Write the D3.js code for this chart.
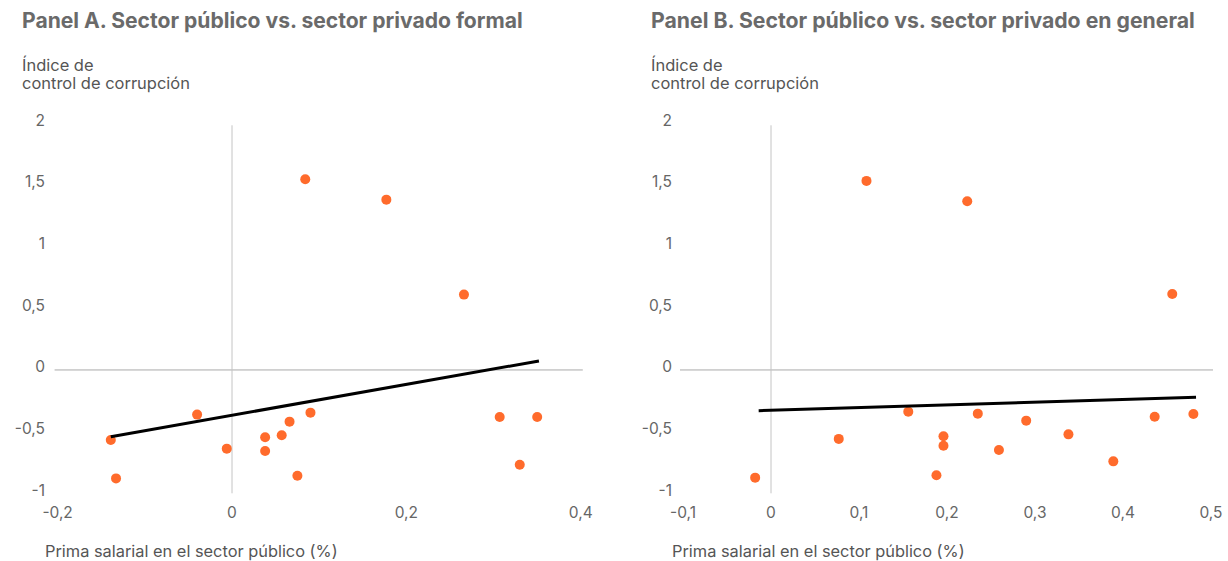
<!DOCTYPE html>
<html><head><meta charset="utf-8">
<script src="https://cdn.jsdelivr.net/npm/d3@7"></script>
<style>body{margin:0;background:#fff}svg{display:block}text{font-family:Inter,"Liberation Sans",Arial,sans-serif}</style>
</head><body><svg id="c" width="1228" height="561"></svg>
<script>
// Panel A data
const titleA = "Panel A. Sector público vs. sector privado formal";
const xA = [-0.139,-0.133,-0.040,-0.006,0.038,0.038,0.057,0.066,0.075,0.090,0.084,0.177,0.266,0.307,0.330,0.350];
const yA = [-0.568,-0.879,-0.362,-0.638,-0.546,-0.657,-0.530,-0.419,-0.857,-0.346,1.547,1.381,0.611,-0.381,-0.768,-0.381];
const fitAx = [-0.139, 0.352];
const fitAy = [-0.541, 0.073];
const xTicksA = [-0.2, 0, 0.2, 0.4];
// Panel B data
const titleB = "Panel B. Sector público vs. sector privado en general";
const xB = [-0.018,0.077,0.156,0.188,0.196,0.196,0.235,0.259,0.290,0.338,0.389,0.436,0.480,0.1085,0.223,0.456];
const yB = [-0.873,-0.559,-0.338,-0.853,-0.538,-0.614,-0.354,-0.649,-0.411,-0.522,-0.741,-0.379,-0.357,1.533,1.368,0.616];
const fitBx = [-0.014, 0.483];
const fitBy = [-0.330, -0.222];
const xTicksB = [-0.1, 0, 0.1, 0.2, 0.3, 0.4, 0.5];
// Shared
const yTicks = [2, 1.5, 1, 0.5, 0, -0.5, -1];
const yTitle = ["Índice de", "control de corrupción"];
const xTitle = "Prima salarial en el sector público (%)";

const svg = d3.select("#c");
const fmt = v => String(v).replace(".", ",");
const y = d3.scaleLinear().domain([-1, 2]).range([493.3, 123.3]);

// shrink/grow a text element's font size so that it spans the target width
function fit(sel, target) {
  const node = sel.node();
  const fs = parseFloat(sel.attr("font-size"));
  const w = node.getComputedTextLength();
  if (w > 0) sel.attr("font-size", (fs * target / w).toFixed(2));
}

function panel(cfg) {
  const g = svg.append("g");
  const x = d3.scaleLinear().domain(cfg.xdom).range(cfg.xrange);
  const t = g.append("text").attr("x", cfg.left).attr("y", 28).attr("font-size", 19).attr("font-weight", "bold")
    .attr("fill", "#6a6a6a").text(cfg.title);
  fit(t, cfg.titleW);
  const yt = g.selectAll(".yt").data(yTitle).join("text").attr("x", cfg.left).attr("y", (d, i) => 71 + i * 18)
    .attr("font-size", 15).attr("fill", "#555").text(d => d);
  fit(d3.select(yt.nodes()[1]), 168);
  d3.select(yt.nodes()[0]).attr("font-size", d3.select(yt.nodes()[1]).attr("font-size"));
  // zero lines
  g.append("line").attr("x1", x(cfg.xdom[0]) - 3).attr("x2", x(cfg.xdom[1]) + 2)
    .attr("y1", y(0)).attr("y2", y(0)).attr("stroke", "#aaa").attr("stroke-width", 1);
  g.append("line").attr("x1", x(0)).attr("x2", x(0)).attr("y1", y(2) + 2).attr("y2", y(-1))
    .attr("stroke", "#c4c4c4").attr("stroke-width", 1);
  // y ticks
  g.selectAll(".ytk").data(yTicks).join("text").attr("x", cfg.ylabX).attr("y", d => y(d) - 3)
    .attr("dy", "0.35em").attr("text-anchor", "end").attr("font-size", 15.5).attr("fill", "#666").text(fmt);
  // x ticks
  g.selectAll(".xtk").data(cfg.xticks).join("text").attr("x", d => x(d)).attr("y", 513)
    .attr("dy", "0.35em").attr("text-anchor", "middle").attr("font-size", 15.5).attr("fill", "#666").text(fmt);
  const xt = g.append("text").attr("x", cfg.xtitleX).attr("y", 557).attr("font-size", 15).attr("fill", "#555").text(xTitle);
  fit(xt, 293);
  // points
  g.selectAll("circle").data(cfg.xs.map((v, i) => [v, cfg.ys[i]])).join("circle")
    .attr("cx", d => x(d[0])).attr("cy", d => y(d[1])).attr("r", 5).attr("fill", "#ff6b2c");
  // fit line
  const line = d3.line().x(d => x(d[0])).y(d => y(d[1]));
  g.append("path").attr("d", line(cfg.fx.map((v, i) => [v, cfg.fy[i]])))
    .attr("stroke", "#000").attr("stroke-width", 3).attr("fill", "none");
}

panel({title: titleA, titleW: 501, left: 22, xdom: [-0.2, 0.4], xrange: [57.6, 580.8], xticks: xTicksA,
  ylabX: 45, xtitleX: 45, xs: xA, ys: yA, fx: fitAx, fy: fitAy});
panel({title: titleB, titleW: 544, left: 651, xdom: [-0.1, 0.5], xrange: [683, 1211], xticks: xTicksB,
  ylabX: 672, xtitleX: 672, xs: xB, ys: yB, fx: fitBx, fy: fitBy});
</script></body></html>
